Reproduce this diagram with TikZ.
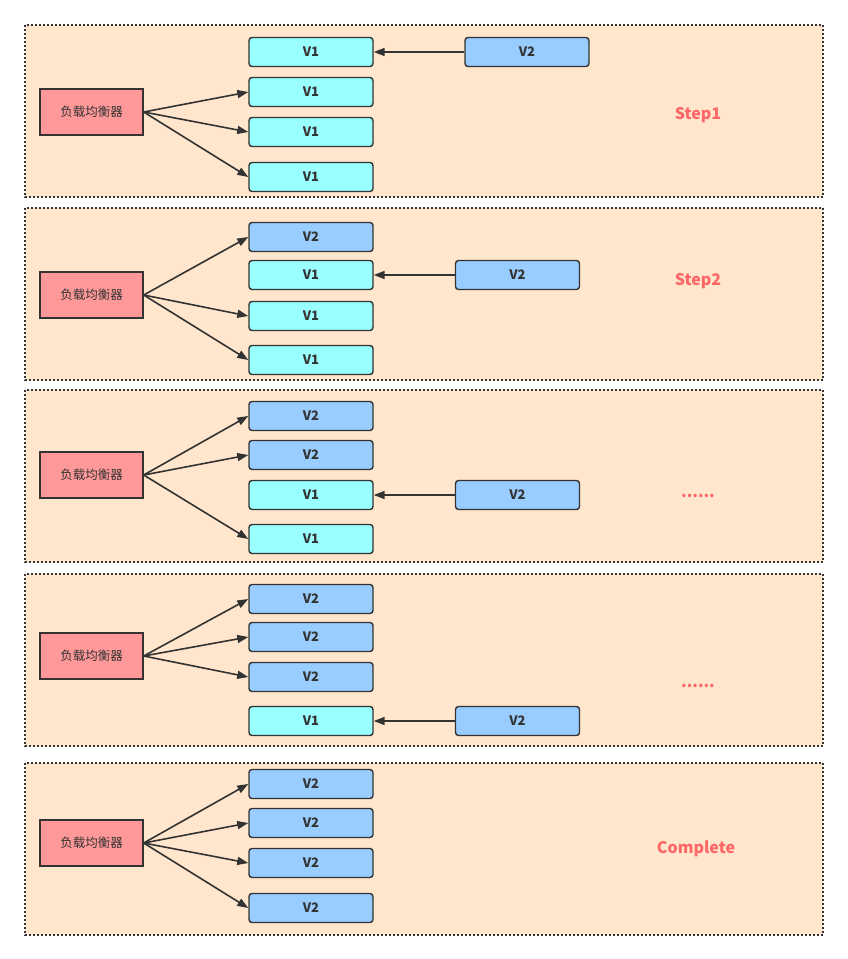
\documentclass[tikz,border=0pt]{standalone}
\usepackage{fontspec}
\setmainfont{Noto Sans CJK SC}
\usetikzlibrary{arrows.meta}
\definecolor{panelfill}{HTML}{FFE6CC}
\definecolor{edge}{HTML}{333333}
\definecolor{cyanfill}{HTML}{99FFFF}
\definecolor{bluefill}{HTML}{99CCFF}
\definecolor{lbfill}{HTML}{FF9999}
\definecolor{steptxt}{HTML}{FF6666}
\tikzset{
  panel/.style={draw=edge, fill=panelfill, line width=1.3pt, dash pattern=on 2pt off 2pt},
  vbox/.style={draw=edge, line width=1.4pt, rounded corners=3pt, minimum width=124pt, minimum height=29pt, inner sep=0pt, text=edge, font=\fontsize{13}{15}\selectfont\bfseries},
  vone/.style={vbox, fill=cyanfill},
  vtwo/.style={vbox, fill=bluefill},
  lb/.style={draw=edge, fill=lbfill, line width=1.4pt, minimum width=103pt, minimum height=46pt, inner sep=0pt, text=edge, font=\fontsize{12.5}{14}\selectfont},
  arr/.style={draw=edge, line width=1.6pt, -{Triangle[length=11pt,width=8pt]}},
  steplbl/.style={text=steptxt, font=\fontsize{16}{18}\selectfont\bfseries},
}
\begin{document}
\begin{tikzpicture}[x=1pt,y=-1pt]
\useasboundingbox (0,0) rectangle (848,959);
% panels
\draw[panel] (25,25) rectangle (823,197);
\draw[panel] (25,208) rectangle (823,380);
\draw[panel] (25,390) rectangle (823,562);
\draw[panel] (25,574) rectangle (823,746);
\draw[panel] (25,763) rectangle (823,935);

% ---------- Panel 1
\node[lb] (lb1) at (91.5,112) {负载均衡器};
\node[vone] (a1) at (311,52) {V1};
\node[vone] (a2) at (311,92) {V1};
\node[vone] (a3) at (311,132) {V1};
\node[vone] (a4) at (311,177) {V1};
\node[vtwo] (n1) at (527,52) {V2};
\node[steplbl] (s1) at (698,115) {Step1};
\draw[arr] (lb1.east) -- (a2.west);
\draw[arr] (lb1.east) -- (a3.west);
\draw[arr] (lb1.east) -- (a4.west);
\draw[arr] (n1.west) -- (a1.east);

% ---------- Panel 2
\node[lb] (lb2) at (91.5,295) {负载均衡器};
\node[vtwo] (b1) at (311,237) {V2};
\node[vone] (b2) at (311,275) {V1};
\node[vone] (b3) at (311,316) {V1};
\node[vone] (b4) at (311,360) {V1};
\node[vtwo] (n2) at (517.5,275) {V2};
\node[steplbl] (s2) at (698,281) {Step2};
\draw[arr] (lb2.east) -- (b1.west);
\draw[arr] (lb2.east) -- (b3.west);
\draw[arr] (lb2.east) -- (b4.west);
\draw[arr] (n2.west) -- (b2.east);

% ---------- Panel 3
\node[lb] (lb3) at (91.5,475) {负载均衡器};
\node[vtwo] (c1) at (311,416) {V2};
\node[vtwo] (c2) at (311,455) {V2};
\node[vone] (c3) at (311,495) {V1};
\node[vone] (c4) at (311,539) {V1};
\node[vtwo] (n3) at (517.5,495) {V2};
\node[steplbl] (s3) at (698,496) {......};
\draw[arr] (lb3.east) -- (c1.west);
\draw[arr] (lb3.east) -- (c2.west);
\draw[arr] (lb3.east) -- (c4.west);
\draw[arr] (n3.west) -- (c3.east);

% ---------- Panel 4
\node[lb] (lb4) at (91.5,656) {负载均衡器};
\node[vtwo] (d1) at (311,599) {V2};
\node[vtwo] (d2) at (311,637) {V2};
\node[vtwo] (d3) at (311,677) {V2};
\node[vone] (d4) at (311,721) {V1};
\node[vtwo] (n4) at (517.5,721) {V2};
\node[steplbl] (s4) at (698,686) {......};
\draw[arr] (lb4.east) -- (d1.west);
\draw[arr] (lb4.east) -- (d2.west);
\draw[arr] (lb4.east) -- (d3.west);
\draw[arr] (n4.west) -- (d4.east);

% ---------- Panel 5
\node[lb] (lb5) at (91.5,843) {负载均衡器};
\node[vtwo] (e1) at (311,784) {V2};
\node[vtwo] (e2) at (311,823) {V2};
\node[vtwo] (e3) at (311,863) {V2};
\node[vtwo] (e4) at (311,908) {V2};
\node[steplbl] (s5) at (696,849) {Complete};
\draw[arr] (lb5.east) -- (e1.west);
\draw[arr] (lb5.east) -- (e2.west);
\draw[arr] (lb5.east) -- (e3.west);
\draw[arr] (lb5.east) -- (e4.west);
\end{tikzpicture}
\end{document}
